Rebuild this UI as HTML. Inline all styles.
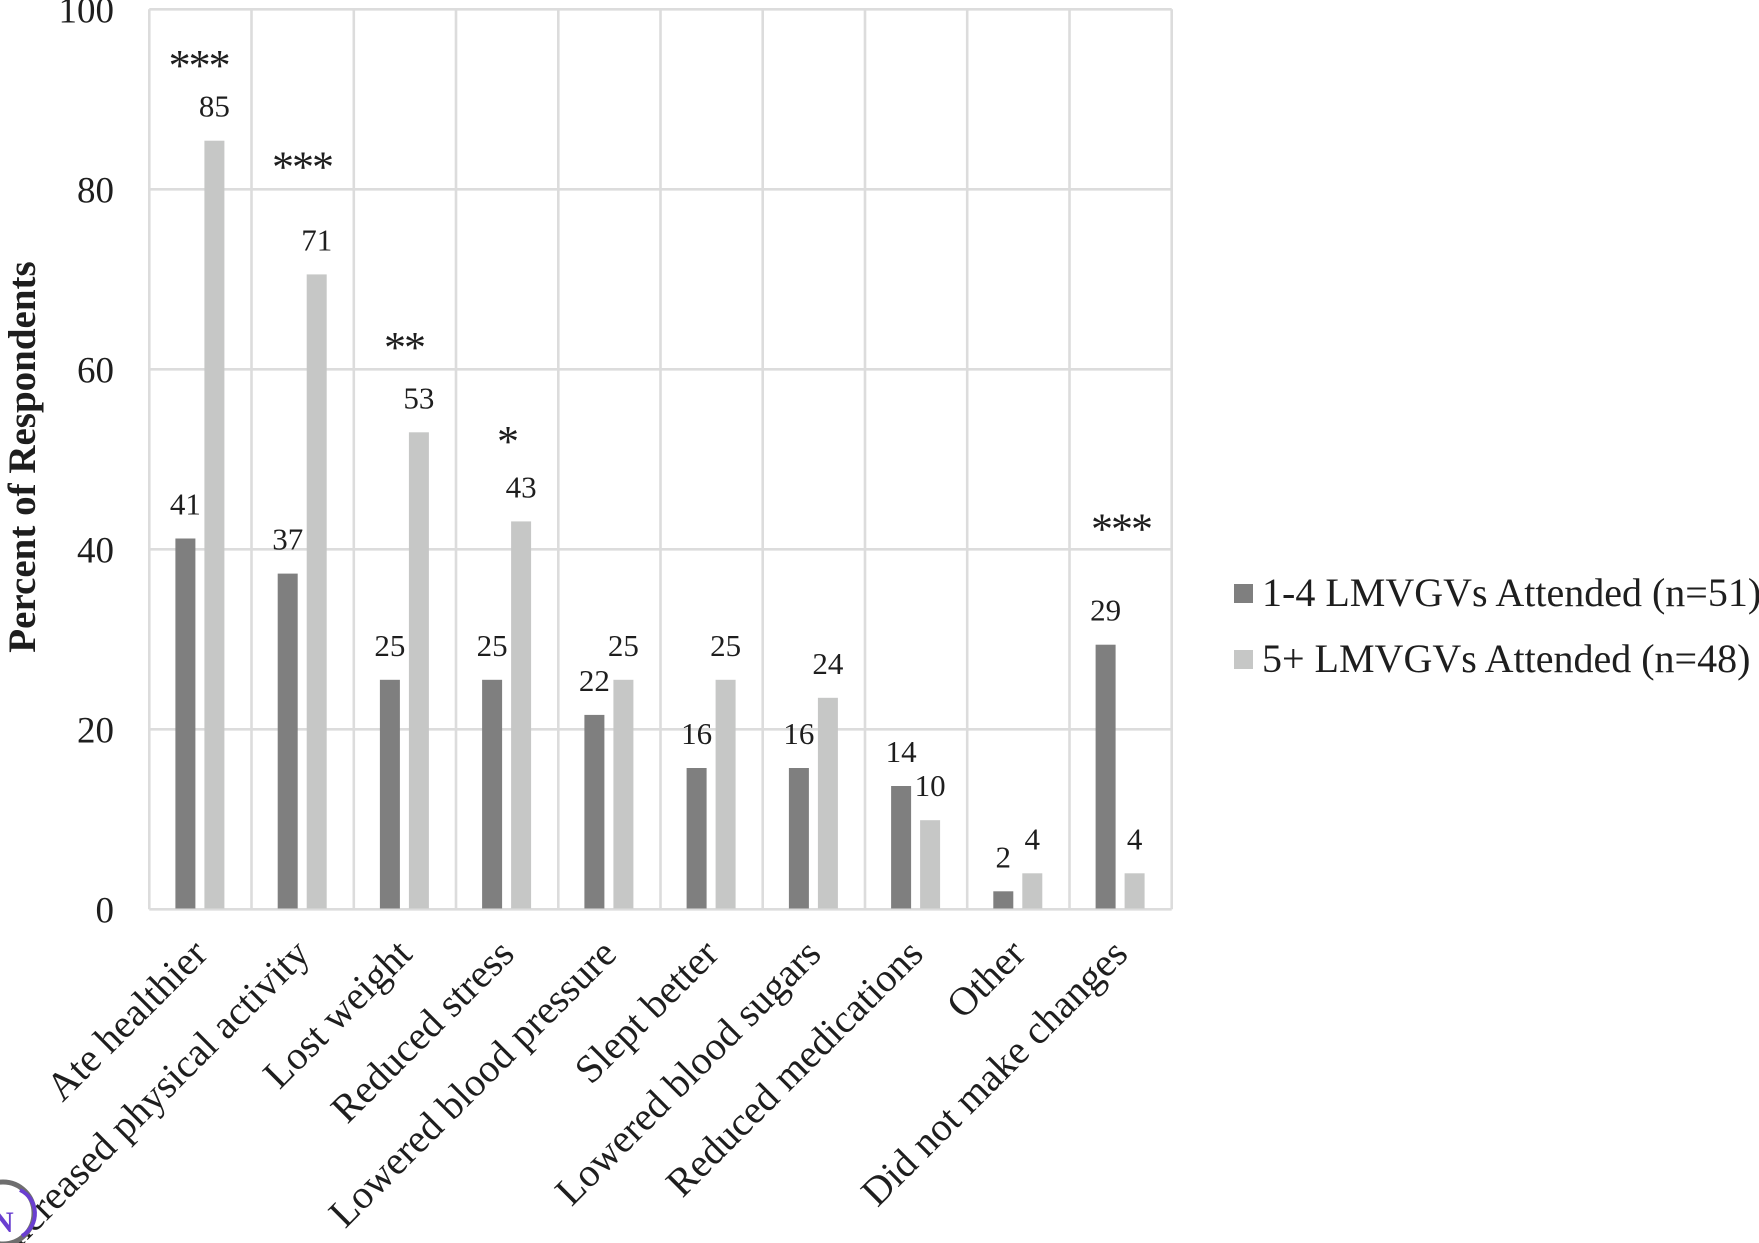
<!DOCTYPE html>
<html>
<head>
<meta charset="utf-8">
<style>
html,body{margin:0;padding:0;background:#fff;}
svg{display:block;}
text{font-family:"Liberation Serif","Times New Roman",serif;fill:#1e1e1e;}
</style>
</head>
<body>
<svg width="1759" height="1243" viewBox="0 0 1759 1243" xmlns="http://www.w3.org/2000/svg">
<rect width="1759" height="1243" fill="#fff"/>
<!-- gridlines -->
<g stroke="#dcdcdc" stroke-width="2.6">
<line x1="149.3" y1="9.3" x2="1171.7" y2="9.3"/>
<line x1="149.3" y1="189.3" x2="1171.7" y2="189.3"/>
<line x1="149.3" y1="369.3" x2="1171.7" y2="369.3"/>
<line x1="149.3" y1="549.3" x2="1171.7" y2="549.3"/>
<line x1="149.3" y1="729.3" x2="1171.7" y2="729.3"/>
<line x1="149.3" y1="909.3" x2="1171.7" y2="909.3"/>
<line x1="149.3" y1="9.3" x2="149.3" y2="909.3"/>
<line x1="251.5" y1="9.3" x2="251.5" y2="909.3"/>
<line x1="353.8" y1="9.3" x2="353.8" y2="909.3"/>
<line x1="456.0" y1="9.3" x2="456.0" y2="909.3"/>
<line x1="558.3" y1="9.3" x2="558.3" y2="909.3"/>
<line x1="660.5" y1="9.3" x2="660.5" y2="909.3"/>
<line x1="762.7" y1="9.3" x2="762.7" y2="909.3"/>
<line x1="865.0" y1="9.3" x2="865.0" y2="909.3"/>
<line x1="967.2" y1="9.3" x2="967.2" y2="909.3"/>
<line x1="1069.5" y1="9.3" x2="1069.5" y2="909.3"/>
<line x1="1171.7" y1="9.3" x2="1171.7" y2="909.3"/>
</g>
<!-- dark bars -->
<g fill="#7f7f7f">
<rect x="175.4" y="538.5" width="20" height="370"/>
<rect x="277.7" y="573.6" width="20" height="334.9"/>
<rect x="379.9" y="679.8" width="20" height="228.7"/>
<rect x="482.1" y="679.8" width="20" height="228.7"/>
<rect x="584.4" y="714.9" width="20" height="193.6"/>
<rect x="686.6" y="768.0" width="20" height="140.5"/>
<rect x="788.9" y="768.0" width="20" height="140.5"/>
<rect x="891.1" y="786.0" width="20" height="122.5"/>
<rect x="993.3" y="891.3" width="20" height="17.2"/>
<rect x="1095.6" y="644.7" width="20" height="263.8"/>
</g>
<!-- light bars -->
<g fill="#c6c7c6">
<rect x="204.4" y="140.7" width="20" height="767.8"/>
<rect x="306.7" y="274.4" width="20" height="634.1"/>
<rect x="408.9" y="432.3" width="20" height="476.2"/>
<rect x="511.1" y="521.4" width="20" height="387.1"/>
<rect x="613.4" y="679.8" width="20" height="228.7"/>
<rect x="715.6" y="679.8" width="20" height="228.7"/>
<rect x="817.9" y="697.8" width="20" height="210.7"/>
<rect x="920.1" y="820.2" width="20" height="88.3"/>
<rect x="1022.3" y="873.3" width="20" height="35.2"/>
<rect x="1124.6" y="873.3" width="20" height="35.2"/>
</g>
<!-- data labels -->
<g font-size="31" text-anchor="middle">
<text x="185.4" y="514.5">41</text>
<text x="287.7" y="549.6">37</text>
<text x="389.9" y="655.8">25</text>
<text x="492.1" y="655.8">25</text>
<text x="594.4" y="690.9">22</text>
<text x="696.6" y="744.0">16</text>
<text x="798.9" y="744.0">16</text>
<text x="901.1" y="762.0">14</text>
<text x="1003.3" y="867.3">2</text>
<text x="1105.6" y="620.7">29</text>
<text x="214.4" y="116.7">85</text>
<text x="316.7" y="250.4">71</text>
<text x="418.9" y="408.3">53</text>
<text x="521.1" y="497.4">43</text>
<text x="623.4" y="655.8">25</text>
<text x="725.6" y="655.8">25</text>
<text x="827.9" y="673.8">24</text>
<text x="930.1" y="796.2">10</text>
<text x="1032.3" y="849.3">4</text>
<text x="1134.6" y="849.3">4</text>
</g>
<!-- significance stars -->
<g font-size="44" text-anchor="middle" letter-spacing="-2">
<text x="198.6" y="80">***</text>
<text x="302" y="181.5">***</text>
<text x="404" y="362">**</text>
<text x="507" y="456">*</text>
<text x="1121" y="543.5">***</text>
</g>
<!-- y tick labels -->
<g font-size="37" text-anchor="end">
<text x="114" y="22.6">100</text>
<text x="114" y="202.6">80</text>
<text x="114" y="382.6">60</text>
<text x="114" y="562.6">40</text>
<text x="114" y="742.6">20</text>
<text x="114" y="922.6">0</text>
</g>
<!-- y axis title -->
<text x="0" y="0" font-size="39" font-weight="bold" text-anchor="middle" transform="translate(35,457) rotate(-90)">Percent of Respondents</text>
<!-- category labels -->
<g font-size="40" text-anchor="end">
<text transform="translate(209.4,956) rotate(-45)">Ate healthier</text>
<text transform="translate(311.7,956) rotate(-45)">Increased physical activity</text>
<text transform="translate(413.9,956) rotate(-45)">Lost weight</text>
<text transform="translate(516.1,956) rotate(-45)">Reduced stress</text>
<text transform="translate(618.4,956) rotate(-45)">Lowered blood pressure</text>
<text transform="translate(720.6,956) rotate(-45)">Slept better</text>
<text transform="translate(822.9,956) rotate(-45)">Lowered blood sugars</text>
<text transform="translate(925.1,956) rotate(-45)">Reduced medications</text>
<text transform="translate(1027.3,956) rotate(-45)">Other</text>
<text transform="translate(1129.6,956) rotate(-45)">Did not make changes</text>
</g>
<!-- legend -->
<rect x="1234" y="584" width="19" height="19" fill="#7f7f7f"/>
<text x="1262" y="606" font-size="40">1-4 LMVGVs Attended (n=51)</text>
<rect x="1234" y="650" width="19" height="19" fill="#c6c7c6"/>
<text x="1262" y="672" font-size="40">5+ LMVGVs Attended (n=48)</text>
<!-- corner logo -->
<circle cx="3" cy="1213" r="31" fill="#fff" stroke="#6e6e6e" stroke-width="5"/>
<path d="M 20 1190 A 26 26 0 0 1 22 1236" fill="none" stroke="#6a3fd0" stroke-width="4"/>
<text x="-8" y="1232" font-family="Liberation Sans, sans-serif" font-weight="bold" font-size="30" style="fill:#6a3fd0">N</text>
</svg>
</body>
</html>
